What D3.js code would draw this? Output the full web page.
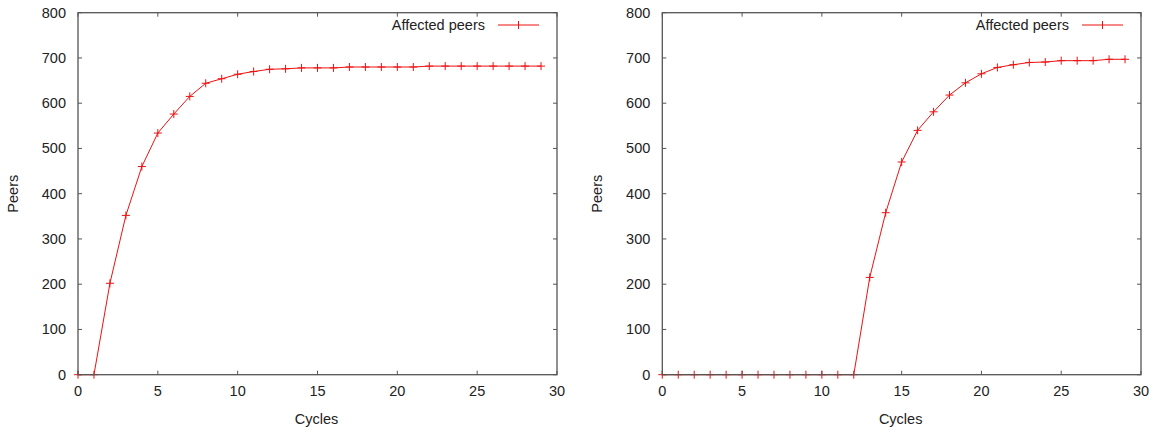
<!DOCTYPE html>
<html>
<head>
<meta charset="utf-8">
<script src="https://cdn.jsdelivr.net/npm/d3@7"></script>
<style>
  body { margin: 0; background: #fff; }
  svg { display: block; }
</style>
</head>
<body>
<script>
// cycles shared by both runs
const cycles = d3.range(0, 30);

// affected peers, first run (left panel)
const peersLeft = [0, 0, 202, 352, 460, 534, 576, 615, 644, 654,
                   664, 670, 675, 676, 678, 678, 678, 680, 680, 680,
                   680, 680, 682, 682, 682, 682, 682, 682, 682, 682];

// affected peers, second run (right panel)
const peersRight = [0, 0, 0, 0, 0, 0, 0, 0, 0, 0,
                    0, 0, 0, 215, 358, 470, 540, 581, 618, 645,
                    665, 679, 685, 690, 691, 694, 694, 694, 697, 697];

const xTicks = [0, 5, 10, 15, 20, 25, 30];
const yTicks = [0, 100, 200, 300, 400, 500, 600, 700, 800];
const seriesName = "Affected peers";

const W = 1157, H = 433;
const font = "'Liberation Sans', Arial, sans-serif";
const fs = "14.5px";
const axisColor = "#555";
const red = "#ee1111";

const svg = d3.select("body").append("svg")
  .attr("width", W)
  .attr("height", H);

function panel(left, right, values) {
  const top = 12.7, bottom = 374.7;
  const x = d3.scaleLinear().domain([0, 30]).range([left, right]);
  const y = d3.scaleLinear().domain([0, 800]).range([bottom, top]);
  const g = svg.append("g");
  const tl = 4;

  // tick marks on all four sides, pointing inward
  g.selectAll(".xt").data(xTicks).enter().append("path")
    .attr("d", d => `M${x(d)},${bottom}v${-tl}M${x(d)},${top}v${tl}`)
    .attr("stroke", axisColor).attr("stroke-width", 1);
  g.selectAll(".yt").data(yTicks).enter().append("path")
    .attr("d", d => `M${left},${y(d)}h${tl}M${right},${y(d)}h${-tl}`)
    .attr("stroke", axisColor).attr("stroke-width", 1);

  g.selectAll(".xl").data(xTicks).enter().append("text")
    .attr("x", d => x(d)).attr("y", bottom + 21)
    .attr("text-anchor", "middle")
    .attr("font-family", font).attr("font-size", fs).attr("fill", "#222")
    .text(d => d);
  g.selectAll(".yl").data(yTicks).enter().append("text")
    .attr("x", left - 12).attr("y", d => y(d) + 5)
    .attr("text-anchor", "end")
    .attr("font-family", font).attr("font-size", fs).attr("fill", "#222")
    .text(d => d);

  g.append("text")
    .attr("x", (left + right) / 2 - 1).attr("y", 424)
    .attr("text-anchor", "middle")
    .attr("font-family", font).attr("font-size", fs).attr("fill", "#222")
    .text("Cycles");
  g.append("text")
    .attr("transform", `translate(${left - 60},${(top + bottom) / 2}) rotate(-90)`)
    .attr("text-anchor", "middle")
    .attr("font-family", font).attr("font-size", fs).attr("fill", "#222")
    .text("Peers");

  const pts = cycles.map((c, i) => [c, values[i]]);
  g.append("path")
    .datum(pts)
    .attr("fill", "none").attr("stroke", red).attr("stroke-width", 1)
    .attr("d", d3.line().x(d => x(d[0])).y(d => y(d[1])));

  const m = 4;
  g.selectAll(".pt").data(pts).enter().append("path")
    .attr("d", d => `M${x(d[0]) - m},${y(d[1])}h${2 * m}M${x(d[0])},${y(d[1]) - m}v${2 * m}`)
    .attr("stroke", red).attr("stroke-width", 1);

  // frame drawn over the data
  g.append("rect")
    .attr("x", left).attr("y", top)
    .attr("width", right - left).attr("height", bottom - top)
    .attr("fill", "none").attr("stroke", axisColor).attr("stroke-width", 1.3);

  // legend
  const lx1 = right - 59, lx2 = right - 18, ly = 25;
  g.append("text")
    .attr("x", lx1 - 13).attr("y", ly + 5)
    .attr("text-anchor", "end")
    .attr("font-family", font).attr("font-size", fs).attr("fill", "#222")
    .text(seriesName);
  g.append("path")
    .attr("d", `M${lx1},${ly}H${lx2}M${(lx1 + lx2) / 2},${ly - m}v${2 * m}`)
    .attr("stroke", red).attr("stroke-width", 1);
}

panel(78, 557, peersLeft);
panel(662.3, 1141, peersRight);
</script>
</body>
</html>
